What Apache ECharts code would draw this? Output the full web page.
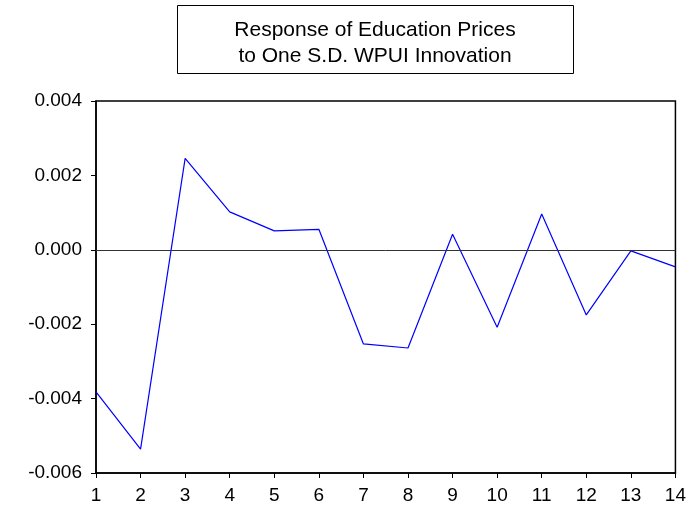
<!DOCTYPE html>
<html>
<head>
<meta charset="utf-8">
<script src="https://cdn.jsdelivr.net/npm/echarts@6/dist/echarts.min.js"></script>
<style>
  html, body { margin: 0; padding: 0; background: #fff; }
  #chart { width: 689px; height: 506px; }
</style>
</head>
<body>
<div id="chart"></div>
<script>
const periods = ['1', '2', '3', '4', '5', '6', '7', '8', '9', '10', '11', '12', '13', '14'];
const response = [-0.00382, -0.00536, 0.00246, 0.00102, 0.00051, 0.00055, -0.00253, -0.00264,
  0.00042, -0.00208, 0.00096, -0.00175, -0.00003, -0.00046];
const titleLines = ['Response of Education Prices', 'to One S.D. WPUI Innovation'];

const font = 'Liberation Sans, Arial, sans-serif';
const chart = echarts.init(document.getElementById('chart'));
chart.setOption({
  animation: false,
  graphic: [
    {
      type: 'rect',
      left: 177,
      top: 5,
      shape: { width: 396, height: 68 },
      style: { fill: '#fff', stroke: '#000', lineWidth: 1 }
    },
    {
      type: 'text',
      x: 375,
      y: 43,
      style: {
        text: titleLines.join('\n'),
        font: '21px ' + font,
        lineHeight: 26,
        align: 'center',
        verticalAlign: 'middle',
        fill: '#000'
      }
    }
  ],
  grid: {
    left: 96,
    right: 11,
    top: 101,
    bottom: 33,
    show: true,
    borderColor: '#000',
    borderWidth: 1.5
  },
  xAxis: {
    type: 'category',
    data: periods,
    boundaryGap: false,
    axisLine: { onZero: false, lineStyle: { color: '#000', width: 1.5 } },
    axisTick: { alignWithLabel: true, length: 5, lineStyle: { color: '#000' } },
    axisLabel: {
      color: '#000',
      fontSize: 19,
      fontFamily: font,
      margin: 13
    }
  },
  yAxis: {
    type: 'value',
    min: -0.006,
    max: 0.004,
    interval: 0.002,
    splitLine: { show: false },
    axisLine: { show: true, lineStyle: { color: '#000', width: 1.5 } },
    axisTick: { show: true, length: 5, lineStyle: { color: '#000' } },
    axisLabel: {
      color: '#000',
      fontSize: 19,
      fontFamily: font,
      margin: 14,
      formatter: v => v.toFixed(3)
    }
  },
  series: [{
    type: 'line',
    data: response,
    symbol: 'none',
    lineStyle: { color: '#0000ff', width: 1.2 },
    markLine: {
      silent: true,
      symbol: 'none',
      label: { show: false },
      lineStyle: { color: '#333', width: 1, type: 'solid' },
      data: [{ yAxis: 0 }]
    }
  }]
});
</script>
</body>
</html>
